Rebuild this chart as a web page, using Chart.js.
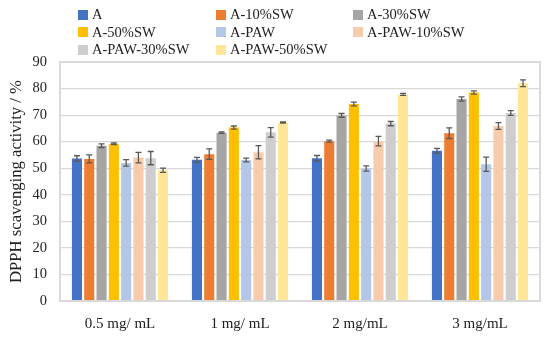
<!DOCTYPE html>
<html>
<head>
<meta charset="utf-8">
<script src="https://cdn.jsdelivr.net/npm/chart.js@4/dist/chart.umd.min.js"></script>
<style>
  html, body { margin: 0; padding: 0; background: #fff; }
  #wrap { position: relative; width: 550px; height: 338px; }
  #legend { position: absolute; left: 78px; top: 6px; width: 470px;
    display: grid; grid-template-columns: 138px 137px 180px; grid-auto-rows: 17.5px;
    font-family: "Liberation Serif", "DejaVu Serif", serif; font-size: 14.5px; color: #222; }
  .li { display: flex; align-items: center; white-space: nowrap; }
  .sw { width: 10px; height: 10px; margin-right: 4px; display: inline-block; }
</style>
</head>
<body>
<div id="wrap">
  <canvas id="c" width="550" height="338"></canvas>
  <div id="legend"></div>
</div>
<script>
const categories = ["0.5 mg/ mL", "1 mg/ mL", "2 mg/mL", "3 mg/mL"];
const seriesNames = ["A", "A-10%SW", "A-30%SW", "A-50%SW", "A-PAW", "A-PAW-10%SW", "A-PAW-30%SW", "A-PAW-50%SW"];
const seriesColors = ["#4472C4", "#ED7D31", "#A5A5A5", "#FFC000", "#B4C7E7", "#F8CBAD", "#CFCDCD", "#FFE699"];

const valA       = [53.7, 53.2, 53.8, 56.6];
const valA10     = [53.5, 55.3, 60.2, 63.2];
const valA30     = [58.5, 63.4, 69.9, 76.1];
const valA50     = [59.2, 65.3, 74.2, 78.5];
const valPAW     = [52.0, 53.1, 49.9, 51.5];
const valPAW10   = [54.0, 56.0, 60.2, 65.9];
const valPAW30   = [53.8, 63.5, 66.8, 70.8];
const valPAW50   = [49.2, 67.2, 77.8, 82.0];

const errA       = [1.0, 0.9, 1.0, 0.9];
const errA10     = [1.5, 2.0, 0.4, 2.0];
const errA30     = [0.7, 0.3, 0.7, 0.8];
const errA50     = [0.3, 0.6, 0.7, 0.6];
const errPAW     = [1.2, 0.7, 1.0, 2.7];
const errPAW10   = [2.0, 2.5, 1.8, 1.3];
const errPAW30   = [2.5, 1.8, 0.8, 0.9];
const errPAW50   = [0.8, 0.2, 0.4, 1.3];

const yTicks = [0, 10, 20, 30, 40, 50, 60, 70, 80, 90];

const allValues = [valA, valA10, valA30, valA50, valPAW, valPAW10, valPAW30, valPAW50];
const allErrors = [errA, errA10, errA30, errA50, errPAW, errPAW10, errPAW30, errPAW50];

// HTML legend in 3 columns
const lg = document.getElementById('legend');
seriesNames.forEach((n, i) => {
  const d = document.createElement('div');
  d.className = 'li';
  d.innerHTML = '<span class="sw" style="background:' + seriesColors[i] + '"></span>' + n;
  lg.appendChild(d);
});

const errorBars = {
  id: 'errorBars',
  afterDatasetsDraw(chart) {
    const ctx = chart.ctx;
    const ys = chart.scales.y;
    ctx.save();
    ctx.strokeStyle = '#595959';
    ctx.lineWidth = 1.3;
    chart.data.datasets.forEach((ds, di) => {
      const meta = chart.getDatasetMeta(di);
      meta.data.forEach((bar, i) => {
        const v = ds.data[i], e = ds.err[i];
        const x = bar.x;
        const yt = ys.getPixelForValue(v + e);
        const yb = ys.getPixelForValue(v - e);
        ctx.beginPath();
        ctx.moveTo(x, yt); ctx.lineTo(x, yb);
        ctx.moveTo(x - 3, yt); ctx.lineTo(x + 3, yt);
        ctx.moveTo(x - 3, yb); ctx.lineTo(x + 3, yb);
        ctx.stroke();
      });
    });
    ctx.restore();
  }
};

const frame = {
  id: 'frame',
  afterDraw(chart) {
    const a = chart.chartArea, ctx = chart.ctx;
    ctx.save();
    ctx.strokeStyle = '#D9D9D9';
    ctx.lineWidth = 2;
    ctx.strokeRect(a.left, a.top, a.right - a.left, a.bottom - a.top);
    ctx.restore();
  }
};

new Chart(document.getElementById('c'), {
  type: 'bar',
  data: {
    labels: categories,
    datasets: seriesNames.map((n, i) => ({
      label: n,
      data: allValues[i],
      err: allErrors[i],
      backgroundColor: seriesColors[i],
      borderWidth: 0,
      barPercentage: 0.82,
      categoryPercentage: 0.82
    }))
  },
  options: {
    responsive: false,
    animation: false,
    devicePixelRatio: 1,
    layout: { padding: { top: 62, right: 10, left: 0, bottom: 0 } },
    plugins: { legend: { display: false }, tooltip: { enabled: false } },
    scales: {
      x: {
        grid: { display: false, drawTicks: false },
        border: { display: false },
        ticks: { color: '#222', padding: 14, font: { family: 'Liberation Serif', size: 15 } },
        afterFit(s) { s.height = 37; }
      },
      y: {
        min: 0, max: 90,
        afterBuildTicks(s) { s.ticks = yTicks.map(v => ({ value: v })); },
        grid: { color: '#D9D9D9', lineWidth: 1.2, drawTicks: false },
        border: { display: false },
        ticks: { color: '#222', padding: 13, font: { family: 'Liberation Serif', size: 14.5 } },
        title: { display: true, text: 'DPPH scavenging activity / %', color: '#222',
                 font: { family: 'Liberation Serif', size: 16.7 }, padding: { top: 7, bottom: 0 } },
        afterFit(s) { s.width = 60; }
      }
    }
  },
  plugins: [errorBars, frame]
});
</script>
</body>
</html>
